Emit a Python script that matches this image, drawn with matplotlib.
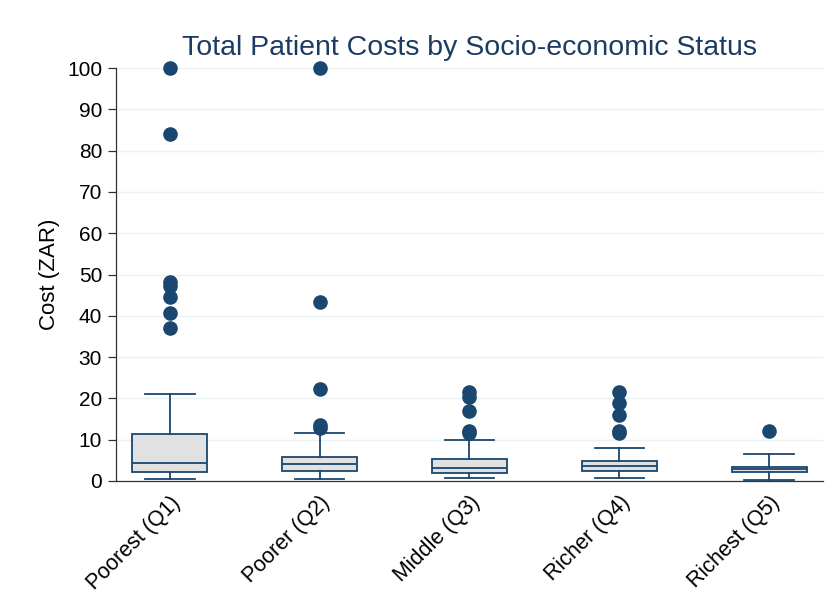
import matplotlib
matplotlib.use("Agg")
import matplotlib.pyplot as plt

# Box summary statistics per socio-economic quintile (ZAR)
groups = ["Poorest (Q1)", "Poorer (Q2)", "Middle (Q3)", "Richer (Q4)", "Richest (Q5)"]
whisker_low = [0.5, 0.5, 0.7, 0.7, 0.2]
quart_low = [2.2, 2.4, 1.9, 2.4, 2.2]
medians = [4.4, 4.1, 3.1, 3.6, 2.9]
quart_high = [11.4, 5.8, 5.3, 4.8, 3.4]
whisker_high = [21.1, 11.6, 9.9, 8.0, 6.5]
outliers = [
    [100, 84, 48.2, 47.2, 44.5, 40.6, 37.0],
    [100, 43.3, 22.3, 13.6, 12.8],
    [21.5, 20.4, 17.0, 12.1, 11.6],
    [21.5, 18.8, 16.1, 12.2, 11.7],
    [12.1],
]
y_ticks = list(range(0, 101, 10))

navy = "#1a476f"
title_col = "#1c3b63"
box_fill = "#e1e1e1"
grid_col = "#eaf2f3"

plt.rcParams["font.family"] = ["Liberation Sans", "DejaVu Sans"]

fig = plt.figure(figsize=(8.25, 6.09), dpi=100)
ax = fig.add_axes([116 / 825, 1 - 481 / 609, (823 - 116) / 825, (481 - 68) / 609])

stats = []
for i, name in enumerate(groups):
    stats.append(dict(
        label=name,
        whislo=whisker_low[i], q1=quart_low[i], med=medians[i],
        q3=quart_high[i], whishi=whisker_high[i], fliers=outliers[i],
    ))

positions = list(range(len(groups)))
ax.bxp(
    stats, positions=positions, widths=0.5, patch_artist=True,
    showfliers=True,
    boxprops=dict(facecolor=box_fill, edgecolor=navy, linewidth=1.3),
    medianprops=dict(color=navy, linewidth=1.3),
    whiskerprops=dict(color=navy, linewidth=1.3),
    capprops=dict(color=navy, linewidth=1.3),
    capwidths=0.33,
    flierprops=dict(marker="o", markerfacecolor=navy, markeredgecolor=navy,
                    markersize=9.5, linestyle="none", clip_on=False),
)

ax.set_xlim(-0.36, 4.36)
ax.set_ylim(0, 100)
ax.set_yticks(y_ticks)
ax.set_yticklabels([str(t) for t in y_ticks], fontsize=15)
ax.set_xticks(positions)
ax.set_xticklabels(groups, rotation=45, ha="right", rotation_mode="anchor", fontsize=15.5)
ax.tick_params(axis="x", length=0, pad=8)
ax.tick_params(axis="y", length=6, width=0.9, color="#333333", pad=4)

ax.yaxis.grid(True, color=grid_col, linewidth=1.0)
ax.set_axisbelow(True)
for side in ("top", "right"):
    ax.spines[side].set_visible(False)
for side in ("left", "bottom"):
    ax.spines[side].set_color("#333333")
    ax.spines[side].set_linewidth(0.9)

ax.set_ylabel("Cost (ZAR)", fontsize=16, labelpad=5)
fig.text(470 / 825, 1 - 48 / 609, "Total Patient Costs by Socio-economic Status",
         ha="center", va="center", fontsize=20.5, color=title_col)

fig.savefig("out.png", dpi=100)
